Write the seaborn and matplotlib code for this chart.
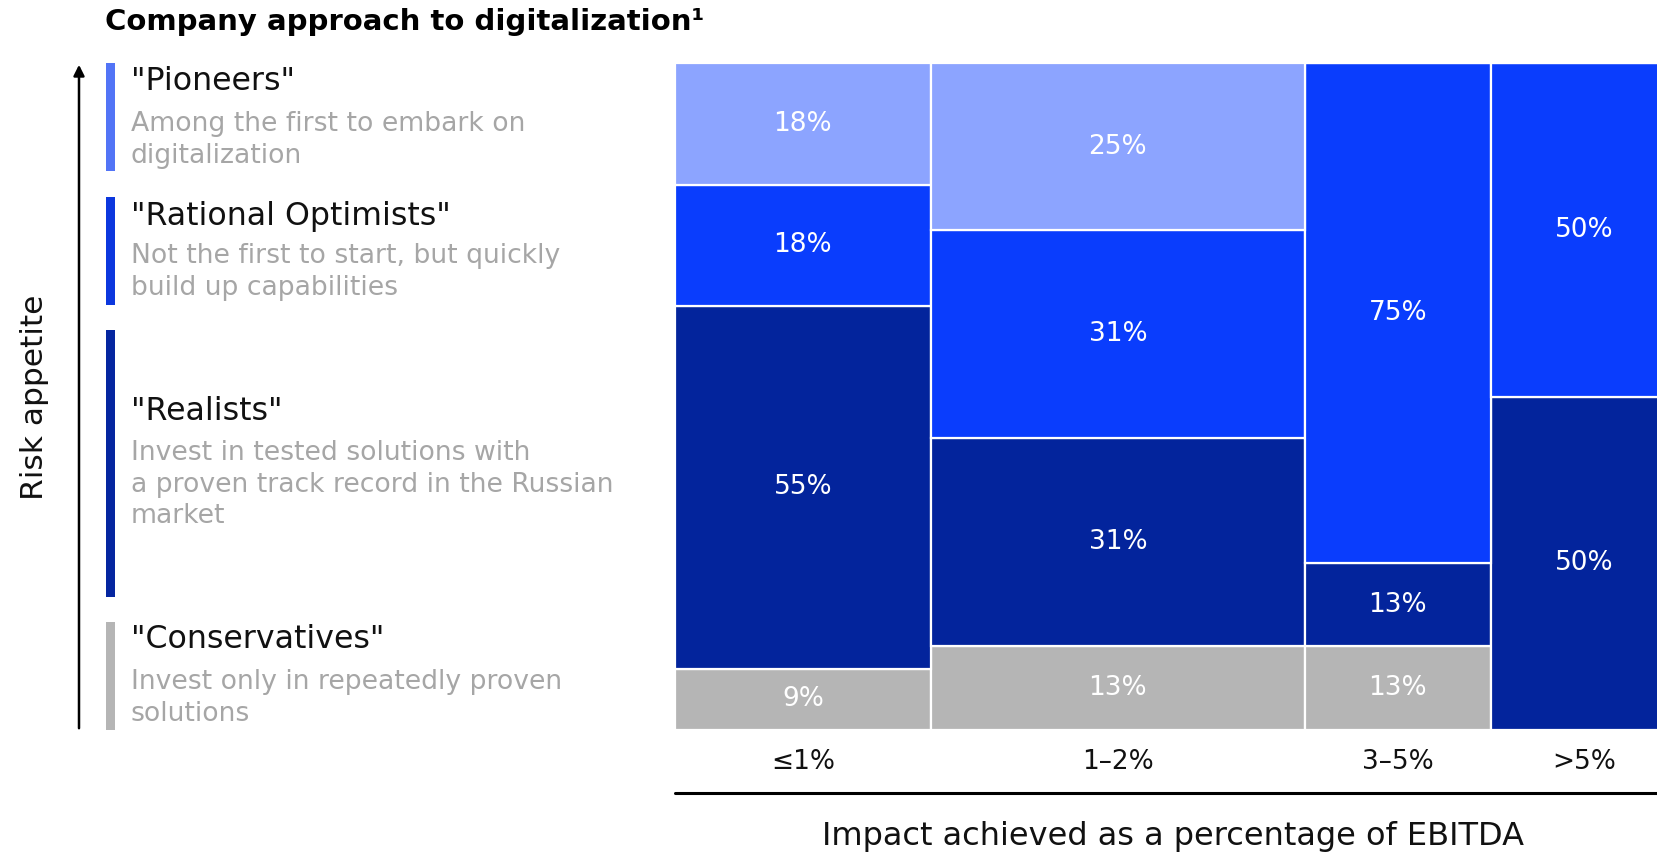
import numpy as np
import pandas as pd
import matplotlib
matplotlib.use("Agg")
import matplotlib.pyplot as plt
from matplotlib.patches import Rectangle, FancyArrowPatch
from matplotlib.lines import Line2D
import seaborn as sns

# Companies by impact bracket (columns) and digitalization approach (segments)
impact_brackets = ["≤1%", "1–2%", "3–5%", ">5%"]
segments = ["Pioneers", "Rational Optimists", "Realists", "Conservatives"]
pioneers = [2, 4, 0, 0]
rational_optimists = [2, 5, 6, 4]
realists = [6, 5, 1, 4]
conservatives = [1, 2, 1, 0]

segment_desc = [
    ["Among the first to embark on", "digitalization"],
    ["Not the first to start, but quickly", "build up capabilities"],
    ["Invest in tested solutions with", "a proven track record in the Russian", "market"],
    ["Invest only in repeatedly proven", "solutions"],
]
chart_colors = {
    "Pioneers": "#8ca4ff",
    "Rational Optimists": "#0a3dfd",
    "Realists": "#03249c",
    "Conservatives": "#b5b5b5",
}
key_colors = ["#5274f6", "#0c37de", "#0526a0", "#b5b5b5"]

sns.set_theme(style="white")
plt.rcParams["font.family"] = ["DejaVu Sans"]

W, H = 1658, 852
fig = plt.figure(figsize=(W / 100, H / 100), dpi=100)


def fx(x):
    return x / W


def fy(y):
    return 1 - y / H


# Mekko: column widths are company counts, heights are shares within each column
counts = {
    "Pioneers": pioneers,
    "Rational Optimists": rational_optimists,
    "Realists": realists,
    "Conservatives": conservatives,
}
totals = np.array([sum(c) for c in zip(*counts.values())])
edges = [0.0] + [float(v) for v in np.cumsum(totals)]
centers = [(a + b) / 2 for a, b in zip(edges[:-1], edges[1:])]

rows = []
for seg in segments:
    for i, br in enumerate(impact_brackets):
        rows.append({"impact": centers[i], "bracket": br, "segment": seg, "n": counts[seg][i]})
df = pd.DataFrame(rows)

unit = 23.33
left_px, top_px, bot_px = 674.6, 63.4, 729.6
ax = fig.add_axes([fx(left_px), fy(bot_px), edges[-1] * unit / W, (bot_px - top_px) / H])
sns.histplot(
    data=df, x="impact", weights="n", hue="segment", hue_order=segments,
    bins=edges, multiple="fill", stat="count", palette=chart_colors,
    element="bars", alpha=1, edgecolor="white", linewidth=1.6,
    legend=False, ax=ax,
)
ax.set_xlim(edges[0], edges[-1])
ax.set_ylim(0, 1)
for s in ax.spines.values():
    s.set_visible(False)
ax.set_yticks([])
ax.set_ylabel("")
ax.set_xlabel("")
ax.set_xticks(centers)
ax.set_xticklabels(impact_brackets, fontsize=19, color="#111111")
ax.tick_params(axis="x", length=0, pad=14)

# Percentage labels in the centre of each segment (stack: bottom to top)
stack_order = segments[::-1]
for i in range(len(impact_brackets)):
    base = 0.0
    for seg in stack_order:
        n = counts[seg][i]
        if n == 0:
            continue
        share = n / totals[i]
        pct = int(100 * share + 0.5)
        ax.text(centers[i], base + share / 2, f"{pct}%", ha="center", va="center",
                color="white", fontsize=19)
        base += share

# Baseline rule and axis title
fig.add_artist(Line2D([fx(left_px), 1.0], [fy(793), fy(793)], color="black", lw=2.2))
fig.text(fx(1173), fy(836), "Impact achieved as a percentage of EBITDA",
         ha="center", va="center", fontsize=23, color="#111111")

# Title
fig.text(fx(105), fy(22), "Company approach to digitalization¹", ha="left", va="center",
         fontsize=21, fontweight="bold", color="black")

# Risk appetite arrow
fig.add_artist(FancyArrowPatch((fx(79), fy(731)), (fx(79), fy(62)),
                               transform=fig.transFigure, arrowstyle="-|>",
                               mutation_scale=16, lw=1.8, color="black"))
fig.text(fx(35), fy(397), "Risk appetite", rotation=90, ha="center", va="center",
         fontsize=22.5, color="#111111")

# Segment key
key_spans = [(63, 171), (197, 305), (330, 597), (622, 730)]
head_y = [82, 216, 412, 640]
desc_y = [124, 256, 453, 682]
line_step = 31.7
for k, seg in enumerate(segments):
    y0, y1 = key_spans[k]
    fig.add_artist(Rectangle((fx(106), fy(y1)), 9 / W, (y1 - y0) / H,
                             transform=fig.transFigure, color=key_colors[k], lw=0))
    fig.text(fx(131), fy(head_y[k]), f'"{seg}"', ha="left", va="center",
             fontsize=22.8, color="#111111")
    for j, line in enumerate(segment_desc[k]):
        fig.text(fx(131), fy(desc_y[k] + j * line_step), line, ha="left", va="center",
                 fontsize=19.2, color="#a6a6a6")

fig.savefig("out.png", dpi=100, facecolor="white")
